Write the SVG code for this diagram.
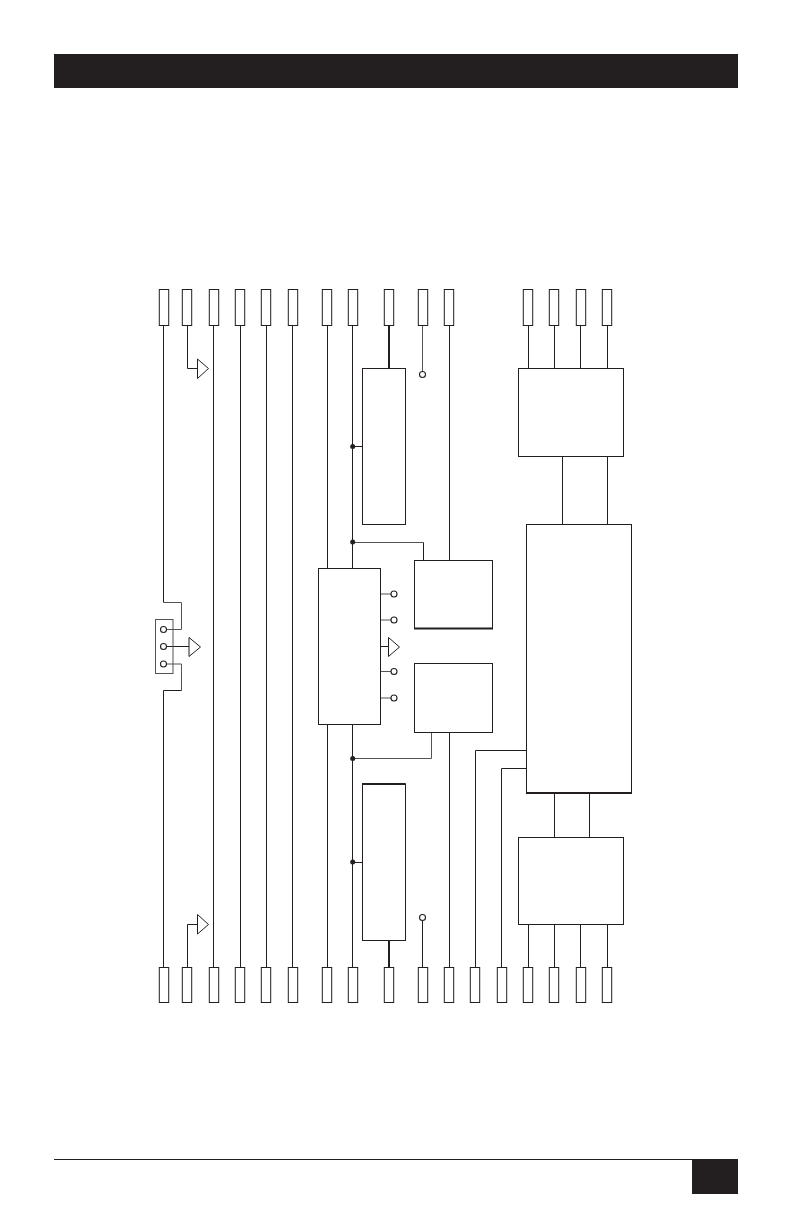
<svg xmlns="http://www.w3.org/2000/svg" width="793" height="1225" viewBox="0 0 793 1225">
<style>
.b{fill:#fff;stroke:#231f20;stroke-width:1}
.p{fill:#fff;stroke:#231f20;stroke-width:1}
.w{fill:none;stroke:#231f20;stroke-width:1}
.g{fill:none;stroke:#55524f;stroke-width:1}
.t{fill:none;stroke:#231f20;stroke-width:2}
.d{fill:#231f20}
.o{fill:#fff;stroke:#231f20;stroke-width:1.1}
.k{fill:#231f20}
</style>
<defs>
<rect id="pt" class="p" width="9.4" height="36" y="289.5"/>
<rect id="pb" class="p" width="9.4" height="35" y="967.5"/>
</defs>
<rect width="793" height="1225" fill="#fff"/>
<g id="page">
<rect class="k" x="54" y="54" width="684" height="34"/>
<rect class="k" x="692" y="1159" width="46" height="35"/>
<line class="w" x1="54" y1="1159.5" x2="692" y2="1159.5"/>
</g>
<g id="connectors">
<path class="w" d="M163.5 325.5V602.5"/>
<path class="g" d="M163.5 602.5H181.5V629.5H166.5"/>
<path class="g" d="M166.5 664H181.5V690.5"/>
<path class="w" d="M181.5 690.5H163.5V967.5"/>
<path class="w" d="M187.5 325.5V368.5H197.5"/>
<path class="w" d="M187.5 967.5V924.5H197.5"/>
<path class="w" d="M166.5 646.5H189"/>
<path class="w" d="M213.5 325.5V967.5M240.5 325.5V967.5M266.5 325.5V967.5M292.5 325.5V967.5"/>
<path class="w" d="M327.5 325.5V568.5M327.5 724.5V967.5M352.5 325.5V568.5M352.5 724.5V967.5"/>
<path class="t" d="M389 325.5V368.5M389 940.5V967.5"/>
<path class="g" d="M422.5 325.5V372"/>
<path class="w" d="M422.5 920.5V967.5"/>
<path class="w" d="M449.5 325.5V560.5M449.5 732.5V967.5"/>
<path class="w" d="M352.5 446.5H362.5M352.5 862.5H362.5"/>
<path class="g" d="M352.5 542.5H423.5"/><path class="w" d="M423.5 542.5V560.5"/>
<path class="g" d="M431.5 732.5V758.5H352.5"/>
<path class="g" d="M380.5 594H391M380.5 620H391M380.5 671.5H391M380.5 698H391"/>
<path class="w" d="M380.5 646.5H388.5"/>
<path class="w" d="M528.5 325.5V368.5M554.5 325.5V368.5M580.5 325.5V368.5M607.5 325.5V368.5"/>
<path class="w" d="M528.5 924.5V967.5M554.5 924.5V967.5M580.5 924.5V967.5M607.5 924.5V967.5"/>
<path class="w" d="M562.5 456.5V524.5M607.5 456.5V524.5"/>
<path class="w" d="M554.5 793V837.5M589.5 793V837.5"/>
<path class="w" d="M526.5 750.5H475.5V967.5M526.5 768.5H501.5V967.5"/>
</g>
<g id="pins-top">
<use href="#pt" x="159.3"/><use href="#pt" x="182.3"/><use href="#pt" x="209.3"/><use href="#pt" x="235.3"/><use href="#pt" x="261.3"/><use href="#pt" x="288.3"/><use href="#pt" x="322.3"/><use href="#pt" x="348.3"/><use href="#pt" x="384.3"/><use href="#pt" x="418.3"/><use href="#pt" x="444.3"/><use href="#pt" x="523.3"/><use href="#pt" x="549.3"/><use href="#pt" x="576.3"/><use href="#pt" x="602.3"/>
</g>
<g id="pins-bottom">
<use href="#pb" x="159.3"/><use href="#pb" x="182.3"/><use href="#pb" x="209.3"/><use href="#pb" x="235.3"/><use href="#pb" x="261.3"/><use href="#pb" x="288.3"/><use href="#pb" x="322.3"/><use href="#pb" x="348.3"/><use href="#pb" x="384.3"/><use href="#pb" x="418.3"/><use href="#pb" x="444.3"/><use href="#pb" x="470.3"/><use href="#pb" x="497.3"/><use href="#pb" x="523.3"/><use href="#pb" x="549.3"/><use href="#pb" x="576.3"/><use href="#pb" x="602.3"/>
</g>
<g id="switch">
<rect class="g" x="155.5" y="619.5" width="17.5" height="54"/>
<circle class="o" cx="163.5" cy="629.5" r="3"/>
<circle class="o" cx="163.5" cy="646.5" r="3"/>
<circle class="o" cx="163.5" cy="664" r="3"/>
<path class="b" d="M189 637.5V656.5L200.5 647Z"/>
</g>
<g id="tri-top"><path class="b" d="M197.5 359V378.5L208.5 368.5Z"/></g>
<g id="tri-bottom"><path class="b" d="M197.5 914.5V934L208.5 924.5Z"/></g>
<g id="box-a"><rect class="b" x="362.5" y="368.5" width="43" height="156"/></g>
<g id="box-a2"><rect class="b" x="362.5" y="784" width="43" height="156.5"/><path class="t" d="M362 784H405.5"/></g>
<g id="box-mid">
<rect class="b" x="318.5" y="568.5" width="62" height="156"/>
<circle class="o" cx="394" cy="594" r="3"/>
<circle class="o" cx="394" cy="620" r="3"/>
<circle class="o" cx="394" cy="671.5" r="3"/>
<circle class="o" cx="394" cy="698" r="3"/>
<path class="b" d="M388.5 637.5V656.5L399.5 647Z"/>
</g>
<g id="box-b"><rect class="b" x="414.5" y="560.5" width="78" height="68"/><path class="t" d="M414 628.5H493"/></g>
<g id="box-c"><rect class="b" x="414.5" y="663.5" width="78" height="69"/></g>
<g id="box-large"><rect class="b" x="526.5" y="524.5" width="105" height="268"/><path class="t" d="M526 793H632"/></g>
<g id="box-d"><rect class="b" x="518.5" y="368.5" width="105" height="88"/></g>
<g id="box-e"><rect class="b" x="518.5" y="837.5" width="105" height="87"/></g>
<g id="term-top"><circle class="o" cx="422.5" cy="374.5" r="3"/></g>
<g id="term-bottom"><circle class="o" cx="422.5" cy="917.5" r="3"/></g>
<g id="junctions">
<circle class="d" cx="352.7" cy="446.5" r="2.5"/>
<circle class="d" cx="352.7" cy="542" r="2.5"/>
<circle class="d" cx="352.7" cy="758.5" r="2.5"/>
<circle class="d" cx="352.7" cy="862" r="2.5"/>
</g>
</svg>
